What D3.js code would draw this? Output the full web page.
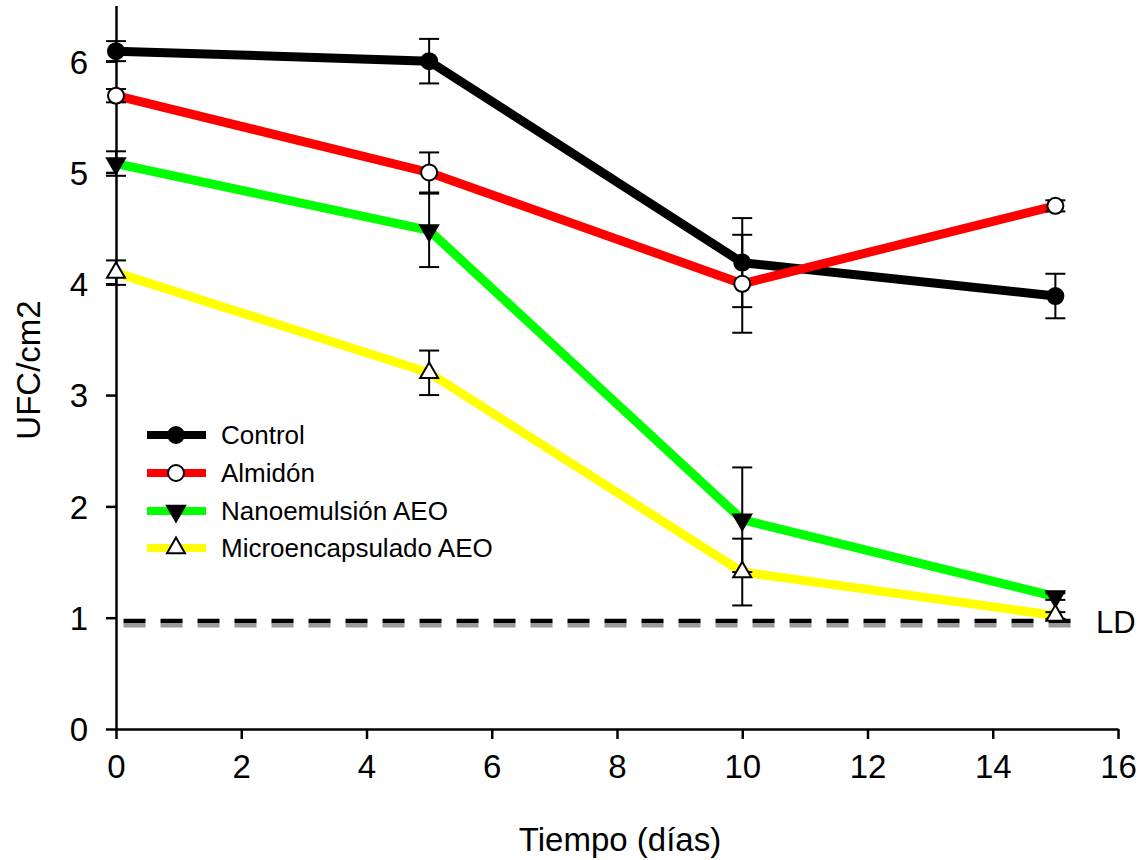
<!DOCTYPE html>
<html>
<head>
<meta charset="utf-8">
<script src="https://cdn.jsdelivr.net/npm/d3@7"></script>
<style>
  body { margin: 0; background: #fff; }
  text { font-family: Arial, "Liberation Sans", sans-serif; fill: #000; }
</style>
</head>
<body>
<div class="chart"></div>
<script>
// chart data
let days = [0, 5, 10, 15];
let seriesNames = ["Control", "Almidón", "Nanoemulsión AEO", "Microencapsulado AEO"];
let control = [6.09, 6.0, 4.19, 3.89];
let controlErr = [0.09, 0.2, 0.4, 0.2];
let almidon = [5.69, 5.0, 4.0, 4.7];
let almidonErr = [0.06, 0.18, 0.44, 0.05];
let nano = [5.08, 4.48, 1.88, 1.19];
let nanoErr = [0.11, 0.33, 0.47, 0.03];
let micro = [4.1, 3.2, 1.41, 1.02];
let microErr = [0.11, 0.2, 0.3, 0.03];
let xTicks = [0, 2, 4, 6, 8, 10, 12, 14, 16];
let yTicks = [0, 1, 2, 3, 4, 5, 6];
let ldValue = 0.97;      // detection limit line
let ldShadow = 0.93;     // grey line just under it
let ldLabel = "LD";

let svgW = 1142;
let svgH = 860;

let svg = d3.select(".chart")
  .append("svg")
  .attr("width", svgW)
  .attr("height", svgH);

// scales
let xScale = d3.scaleLinear().domain([0, 16]).range([116, 1118]);
let yScale = d3.scaleLinear().domain([0, 6.5]).range([729, 5.5]);

// styles per series
let colors = ["#000000", "#ff0000", "#00ff00", "#ffff00"];
let markers = ["circle", "circle", "down", "up"];
let markerFill = ["#000", "#fff", "#000", "#fff"];
let errs = [controlErr, almidonErr, nanoErr, microErr];

let allSeries = [control, almidon, nano, micro].map((vals, i) => ({
  name: seriesNames[i],
  color: colors[i],
  marker: markers[i],
  fill: markerFill[i],
  points: days.map((d, j) => ({ x: d, y: vals[j], e: errs[i][j] }))
}));

// axes
let bottomAxis = d3.axisBottom(xScale).tickValues(xTicks).tickFormat(d3.format("d"))
  .tickSize(10).tickSizeOuter(0).tickPadding(16);
let leftAxis = d3.axisLeft(yScale).tickValues(yTicks).tickFormat(d3.format("d"))
  .tickSize(10).tickSizeOuter(0).tickPadding(18);

let xAxis = svg.append("g")
  .attr("transform", `translate(0, ${yScale(0)})`)
  .call(bottomAxis);
let yAxis = svg.append("g")
  .attr("transform", `translate(${xScale(0)}, 0)`)
  .call(leftAxis);

[xAxis, yAxis].forEach(a => {
  a.select(".domain").attr("stroke", "#000").attr("stroke-width", 2.5);
  a.selectAll(".tick line").attr("stroke", "#000").attr("stroke-width", 2.5);
  a.selectAll(".tick text")
    .style("font-size", "33px")
    .style("font-family", "Arial, 'Liberation Sans', sans-serif")
    .attr("fill", "#000");
});
yAxis.selectAll(".tick text").attr("dy", "0.36em");

// LD dashed line (grey shadow + black dashes)
svg.append("line")
  .attr("x1", xScale(0.12)).attr("x2", xScale(15.3))
  .attr("y1", yScale(ldShadow)).attr("y2", yScale(ldShadow))
  .attr("stroke", "#999").attr("stroke-width", 4)
  .attr("stroke-dasharray", "22,15");
svg.append("line")
  .attr("x1", xScale(0.12)).attr("x2", xScale(15.3))
  .attr("y1", yScale(ldValue)).attr("y2", yScale(ldValue))
  .attr("stroke", "#000").attr("stroke-width", 4.5)
  .attr("stroke-dasharray", "22,15");
svg.append("text")
  .attr("x", xScale(15.65)).attr("y", yScale(ldValue) + 12)
  .style("font-size", "31px")
  .text(ldLabel);

// series lines
let lineGen = d3.line().x(d => xScale(d.x)).y(d => yScale(d.y));
svg.append("g").selectAll("path")
  .data(allSeries)
  .enter()
  .append("path")
  .attr("d", d => lineGen(d.points))
  .attr("fill", "none")
  .attr("stroke", d => d.color)
  .attr("stroke-width", 9)
  .attr("stroke-linejoin", "miter");

// error bars
let errG = svg.append("g").attr("stroke", "#000").attr("stroke-width", 2);
allSeries.forEach(s => {
  s.points.forEach(p => {
    let cx = xScale(p.x);
    errG.append("line").attr("x1", cx).attr("x2", cx)
      .attr("y1", yScale(p.y - p.e)).attr("y2", yScale(p.y + p.e));
    [p.y - p.e, p.y + p.e].forEach(v => {
      errG.append("line").attr("x1", cx - 10).attr("x2", cx + 10)
        .attr("y1", yScale(v)).attr("y2", yScale(v));
    });
  });
});

// marker drawing helper
function drawMarker(g, type, fill, cx, cy) {
  if (type === "circle") {
    g.append("circle").attr("cx", cx).attr("cy", cy).attr("r", 8)
      .attr("fill", fill).attr("stroke", "#000").attr("stroke-width", 2);
  } else {
    let rot = type === "down" ? 180 : 0;
    g.append("path")
      .attr("d", d3.symbol().type(d3.symbolTriangle).size(140)())
      .attr("transform", `translate(${cx}, ${cy}) rotate(${rot})`)
      .attr("fill", fill).attr("stroke", "#000").attr("stroke-width", 2);
  }
}

let markG = svg.append("g");
allSeries.forEach(s => {
  s.points.forEach(p => drawMarker(markG, s.marker, s.fill, xScale(p.x), yScale(p.y)));
});

// legend
let legend = svg.append("g");
let legY = [435, 473, 511, 548];
allSeries.forEach((s, i) => {
  legend.append("line")
    .attr("x1", 147).attr("x2", 206)
    .attr("y1", legY[i]).attr("y2", legY[i])
    .attr("stroke", s.color).attr("stroke-width", 8);
  drawMarker(legend, s.marker, s.fill, 176, legY[i]);
  legend.append("text")
    .attr("x", 221).attr("y", legY[i] + 9)
    .style("font-size", "26px")
    .text(s.name);
});

// axis titles
svg.append("text")
  .attr("x", 620).attr("y", 851)
  .attr("text-anchor", "middle")
  .style("font-size", "33px")
  .text("Tiempo (días)");

svg.append("text")
  .attr("transform", "rotate(-90)")
  .attr("x", -370).attr("y", 40)
  .attr("text-anchor", "middle")
  .style("font-size", "33px")
  .text("UFC/cm2");
</script>
</body>
</html>
